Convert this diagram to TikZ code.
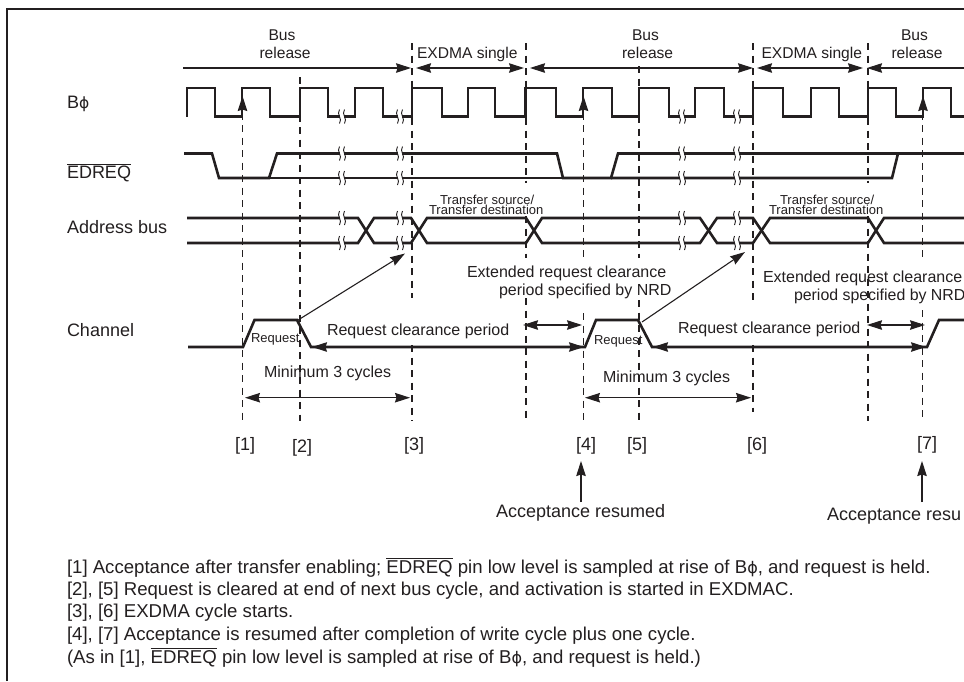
\documentclass[tikz,border=0pt]{standalone}
\usepackage{fontspec}
\setmainfont{Liberation Sans}
\newfontfamily\phifont[Scale=0.86]{DejaVu Sans}
\usetikzlibrary{arrows.meta}
\definecolor{ink}{HTML}{231F20}
\newcommand{\ovlt}[1]{$\overline{\mbox{#1}}$}
\newcommand{\phichar}{{\phifont\symbol{"03D5}}}
\newcommand{\brkmark}[2]{%
  \fill[white] ({#1-2},{#2-1.8}) rectangle ({#1+2},{#2+1.8});
  \draw[wiggle] ({#1-2.5},{#2-7}) .. controls ({#1-6},{#2-2}) and ({#1+1},{#2+2}) .. ({#1-2.5},{#2+7});
  \draw[wiggle] ({#1+2.5},{#2-7}) .. controls ({#1-1},{#2-2}) and ({#1+6},{#2+2}) .. ({#1+2.5},{#2+7});}
\tikzset{
  x=1pt,y=-1pt,
  every node/.style={inner sep=0pt,outer sep=0pt,anchor=base west,text=ink},
  signal/.style={draw=ink,line width=2.6pt,line join=miter},
  wiggle/.style={draw=ink,line width=0.9pt},
  guide/.style={draw=ink,line width=1.2pt,dash pattern=on 7pt off 5.5pt},
  thinline/.style={draw=ink,line width=1.1pt},
  headed/.style={thinline,{Stealth[length=15pt,width=9.5pt,inset=1.5pt,color=ink]}-{Stealth[length=15pt,width=9.5pt,inset=1.5pt,color=ink]}},
  headedr/.style={thinline,-{Stealth[length=15pt,width=9.5pt,inset=1.5pt,color=ink]}},
  headedl/.style={thinline,{Stealth[length=15pt,width=9.5pt,inset=1.5pt,color=ink]}-},
  lab/.style={font=\fontsize{18}{20}\selectfont},
  top/.style={font=\fontsize{15.6}{18}\selectfont},
  mid/.style={font=\fontsize{16}{18}\selectfont},
  small/.style={font=\fontsize{13}{14}\selectfont},
  note/.style={font=\fontsize{18.6}{20}\selectfont},
}
\begin{document}
\begin{tikzpicture}
\useasboundingbox (0,0) rectangle (964,681);
\clip (0,0) rectangle (964,681);
\fill[white] (0,0) rectangle (964,681);
% frame
\draw[ink,line width=2pt] (7,681) -- (7,9) -- (964,9);
% guides
\draw[guide] (242.5,100) -- (242.5,421);
\draw[guide] (300,77) -- (300,421);
\draw[guide] (412,43) -- (412,298);
\draw[guide] (412,345) -- (412,421);
\draw[guide] (526,43) -- (526,183);
\draw[guide] (526,216) -- (526,258);
\draw[guide] (526,298) -- (526,421);
\draw[guide] (583.5,100) -- (583.5,258);
\draw[guide] (583.5,313) -- (583.5,421);
\draw[guide] (639,66) -- (639,258);
\draw[guide] (639,300) -- (639,421);
\draw[guide] (753,43) -- (753,305);
\draw[guide] (753,345) -- (753,412);
\draw[guide] (868,43) -- (868,183);
\draw[guide] (868,216) -- (868,421);
\draw[guide] (922.5,100) -- (922.5,258);
\draw[guide] (922.5,310) -- (922.5,421);
% B phi
\draw[signal] (187,116.5) -- (187,88) -- (215,88) -- (215,116.5) -- (242,116.5) -- (242,88) -- (270,88) -- (270,116.5) -- (300,116.5) -- (300,88) -- (328,88) -- (328,116.5) -- (355,116.5) -- (355,88) -- (383,88) -- (383,116.5) -- (412,116.5) -- (412,88) -- (442,88) -- (442,116.5) -- (468,116.5) -- (468,88) -- (495,88) -- (495,116.5) -- (525.5,116.5) -- (525.5,88) -- (556,88) -- (556,116.5) -- (583,116.5) -- (583,88) -- (612,88) -- (612,116.5) -- (639,116.5) -- (639,88) -- (669,88) -- (669,116.5) -- (695,116.5) -- (695,88) -- (724,88) -- (724,116.5) -- (753,116.5) -- (753,88) -- (783,88) -- (783,116.5) -- (811,116.5) -- (811,88) -- (839,88) -- (839,116.5) -- (868,116.5) -- (868,88) -- (896,88) -- (896,116.5) -- (923,116.5) -- (923,88) -- (951,88) -- (951,116.5) -- (964,116.5);
% EDREQ
\draw[signal] (184,153.5) -- (212,153.5) -- (219,178) -- (269,178) -- (277,153.5) -- (557,153.5) -- (563,178) -- (611,178) -- (618,153.5) -- (964,153.5);
\draw[signal] (269,178) -- (611,178);
\draw[signal] (611,178) -- (892,178) -- (898,153.5);
% address bus
\draw[signal] (187,218) -- (358,218) -- (374,243) -- (411,243) -- (427,218) -- (526,218) -- (542,243) -- (700,243) -- (717,218) -- (753,218) -- (770,243) -- (868,243) -- (884,218) -- (964,218);
\draw[signal] (187,243) -- (358,243) -- (374,218) -- (411,218) -- (427,243) -- (526,243) -- (542,218) -- (700,218) -- (717,243) -- (753,243) -- (770,218) -- (868,218) -- (884,243) -- (964,243);
% channel
\draw[signal] (188,347) -- (243,347) -- (254.5,320) -- (297,320) -- (311,347) -- (585,347) -- (596,320) -- (638,320) -- (652,347) -- (927,347) -- (939,320) -- (964,320);
% breaks
\foreach \bx in {342,400,682,737} {
  \brkmark{\bx}{116.5}
  \brkmark{\bx}{153.5}
  \brkmark{\bx}{178}
  \brkmark{\bx}{218}
  \brkmark{\bx}{243}
}
% bus arrows
\draw[headedr] (183,68) -- (411,68);
\draw[headed] (416,68) -- (524,68);
\draw[headed] (530,68) -- (753,68);
\draw[headed] (757,68) -- (863,68);
\draw[headedl] (867,68) -- (964,68);
% sampling arrows
\draw[headedr] (242.5,112) -- (242.5,96);
\draw[headedr] (583.5,112) -- (583.5,96);
\draw[headedr] (923,112) -- (923,96);
% channel arrows
\draw[headed] (312,347) -- (584,347);
\draw[headed] (653,347) -- (926,347);
\draw[headed] (523,325) -- (582,325);
\draw[headed] (867,325) -- (925,325);
\draw[headed] (245,397.7) -- (410,397.7);
\draw[headed] (585,397.7) -- (751,397.7);
\draw[headedr] (297,320.7) -- (405,253.5);
\draw[headedr] (642,322) -- (745,252);
\draw[headedr] (581,502) -- (581,461);
\draw[headedr] (922,502) -- (922,461);
% left labels
\node[lab] (bphi) at (67,108) {B\phichar};
\node[lab] (edreq) at (67,178) {\ovlt{EDREQ}};
\node[lab] (addr) at (67,233) {Address bus};
\node[lab] (chan) at (67,336) {Channel};
% top labels
\node[top] (bus1) at (268.5,40) {Bus};
\node[top] (rel1) at (259.5,58) {release};
\node[top] (ex1) at (417,58) {EXDMA single};
\node[top] (bus2) at (632,40) {Bus};
\node[top] (rel2) at (622,58) {release};
\node[top] (ex2) at (761.5,58) {EXDMA single};
\node[top] (bus3) at (901,40) {Bus};
\node[top] (rel3) at (891.5,58) {release};
% transfer labels
\node[small] (ts1) at (440,204) {Transfer source/};
\node[small] (td1) at (429,214) {Transfer destination};
\node[small] (ts2) at (780,204) {Transfer source/};
\node[small] (td2) at (769,214) {Transfer destination};
% extended
\node[mid] (e1) at (467,277) {Extended request clearance};
\node[mid] (p1) at (499,295) {period specified by NRD};
\node[mid] (e2) at (763,282) {Extended request clearance};
\node[mid,font=\fontsize{15.9}{18}\selectfont] (p2) at (794,300) {period specified by NRD};
% clearance
\node[mid] (c1) at (327,335) {Request clearance period};
\node[mid] (c2) at (678,333) {Request clearance period};
\node[small] (r1) at (251,342.5) {Request};
\node[small] (r2) at (594,344) {Request};
\node[mid] (m1) at (264,377) {Minimum 3 cycles};
\node[mid] (m2) at (603,382) {Minimum 3 cycles};
% markers
\node[lab] (n1) at (235,450) {[1]};
\node[lab] (n2) at (292,452) {[2]};
\node[lab] (n3) at (404,450) {[3]};
\node[lab] (n4) at (576,450) {[4]};
\node[lab] (n5) at (627,450) {[5]};
\node[lab] (n6) at (747,450) {[6]};
\node[lab] (n7) at (917,449) {[7]};
\node[lab] (a1) at (496,517) {Acceptance resumed};
\node[lab] (a2) at (827,520) {Acceptance resu};
% notes
\node[note] (t1) at (67,573) {[1] Acceptance after transfer enabling; \ovlt{EDREQ} pin low level is sampled at rise of B\phichar, and request is held.};
\node[note] (t2) at (67,595) {[2], [5] Request is cleared at end of next bus cycle, and activation is started in EXDMAC.};
\node[note] (t3) at (67,617) {[3], [6] EXDMA cycle starts.};
\node[note] (t4) at (67,640) {[4], [7] Acceptance is resumed after completion of write cycle plus one cycle.};
\node[note] (t5) at (67,663) {(As in [1], \ovlt{EDREQ} pin low level is sampled at rise of B\phichar, and request is held.)};
\end{tikzpicture}
\end{document}
